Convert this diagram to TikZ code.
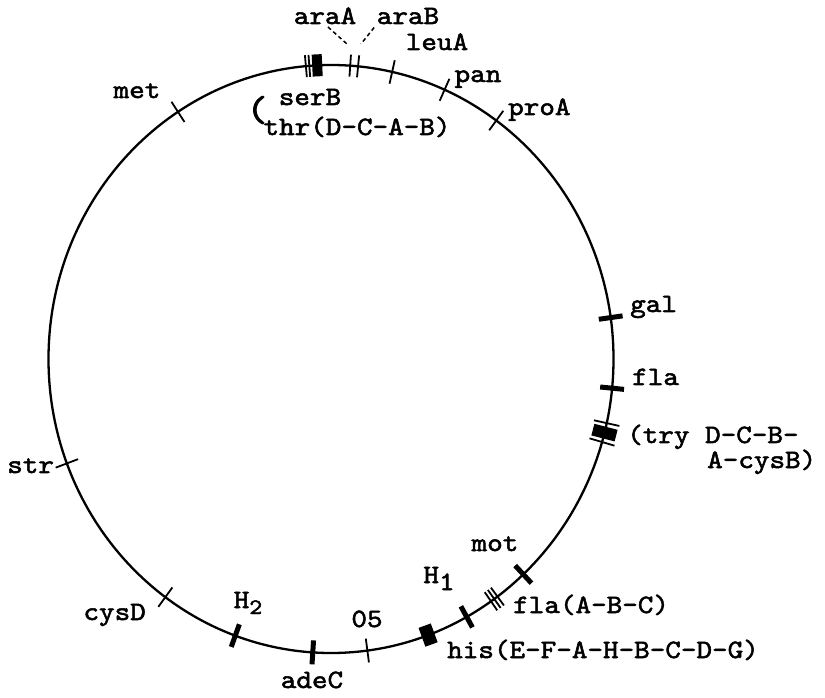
\documentclass[tikz,border=0pt]{standalone}
\usepackage{fontspec}
\newfontfamily\genefont{lmmono10-regular.otf}[FakeStretch=1.12, FakeBold=2]
\usetikzlibrary{positioning}

\begin{document}
\begin{tikzpicture}[
    x=1pt, y=1pt,
    map/.style={line width=2.3pt}, % the chromosome circle
    thin tick/.style={line width=1.8pt}, % single marker
    heavy tick/.style={line width=5pt}, % bold marker
    gene/.style={font=\genefont\fontsize{26.5}{30}\selectfont, inner sep=0pt, anchor=base}
]
    \useasboundingbox (0,0) rectangle (825,697);

    % --- Definitions ---
    \coordinate (centre) at (331,338);
    \def\rx{282.5} % horizontal radius of the map
    \def\ry{294}   % vertical radius of the map

    % --- Drawing ---
    \draw[map] (centre) ellipse ({\rx} and {\ry});

    \begin{scope}[shift={(centre)}]
        % thin markers: met, str, cysD, leuA, pan, proA, 05
        \foreach \t in {122.8, 200.8, 234.1, 77.5, 66.3, 54.2, 277.4}
            \draw[thin tick] ({(\rx-12)*cos(\t)}, {(\ry-12)*sin(\t)}) -- ({(\rx+12)*cos(\t)}, {(\ry+12)*sin(\t)});
        % bold markers: gal, fla, mot, H1, adeC, H2
        \foreach \t in {8.1, -5.7, -47.1, -61.3, -93.7, -109.8}
            \draw[heavy tick] ({(\rx-12)*cos(\t)}, {(\ry-12)*sin(\t)}) -- ({(\rx+12)*cos(\t)}, {(\ry+12)*sin(\t)});
        % araA araB pair, fla(A-B-C) triple
        \foreach \t in {86.1, 84.5, -53.9, -54.7, -55.5}
            \draw[thin tick] ({(\rx-11)*cos(\t)}, {(\ry-11)*sin(\t)}) -- ({(\rx+11)*cos(\t)}, {(\ry+11)*sin(\t)});
        % serB thr cluster
        \foreach \t in {95.1, 94.4}
            \draw[thin tick] ({(\rx-11)*cos(\t)}, {(\ry-11)*sin(\t)}) -- ({(\rx+11)*cos(\t)}, {(\ry+11)*sin(\t)});
        \draw[line width=10pt] ({(\rx-11)*cos(92.8)}, {(\ry-11)*sin(92.8)}) -- ({(\rx+11)*cos(92.8)}, {(\ry+11)*sin(92.8)});
        % try cluster
        \foreach \t in {-12.6, -16.4}
            \draw[thin tick] ({(\rx-13)*cos(\t)}, {(\ry-13)*sin(\t)}) -- ({(\rx+13)*cos(\t)}, {(\ry+13)*sin(\t)});
        \draw[line width=12pt] ({(\rx-12)*cos(-14.5)}, {(\ry-12)*sin(-14.5)}) -- ({(\rx+12)*cos(-14.5)}, {(\ry+12)*sin(-14.5)});
        % his block
        \draw[line width=13pt] ({(\rx-10)*cos(-69.9)}, {(\ry-10)*sin(-69.9)}) -- ({(\rx+10)*cos(-69.9)}, {(\ry+10)*sin(-69.9)});
    \end{scope}

    % --- Labels ---
    \node[gene] (araA) at (325,673) {araA};
    \node[gene] (araB) at (408,673) {araB};
    \node[gene] (leuA) at (437,647) {leuA};
    \node[gene] (pan) at (478,615) {pan};
    \node[gene, anchor=base west] (proA) at (508,582) {proA};
    \node[gene] (serB) at (310,592) {serB};
    \node[gene] (thr) at (357,562) {thr(D-C-A-B)};
    \node[gene, font=\genefont\fontsize{36}{36}\selectfont, anchor=center] (brace) at (257,587) {(};
    \node[gene] (met) at (137,599) {met};
    \node[gene, anchor=base west] (str) at (7,224) {str};
    \node[gene, anchor=base east] (cysD) at (146,77) {cysD};
    \node[gene] (H2) at (248,89) {H\raisebox{-6pt}{\fontsize{22}{22}\selectfont 2}};
    \node[gene] (adeC) at (312,9) {adeC};
    \node[gene] (O5) at (367,70) {05};
    \node[gene, anchor=base west] (his) at (447,39) {his(E-F-A-H-B-C-D-G)};
    \node[gene] (H1) at (439,114) {H\raisebox{-7pt}{1}};
    \node[gene, anchor=base west] (flaABC) at (513,84) {fla(A-B-C)};
    \node[gene] (mot) at (495,146) {mot};
    \node[gene, anchor=base west] (try) at (627,254) {(try D-C-B-};
    \node[gene, anchor=base west] (cysB) at (707,229) {A-cysB)};
    \node[gene, anchor=base west] (fla) at (632,312) {fla};
    \node[gene, anchor=base west] (gal) at (630,385) {gal};

    % dashed pointers to the ara pair
    \coordinate (araAend) at (347,653);
    \coordinate (araBend) at (361,653);
    \draw[line width=1.5pt, dash pattern=on 4pt off 3pt, shorten <=4pt] (araA.south) -- (araAend);
    \draw[line width=1.5pt, dash pattern=on 4pt off 3pt, shorten <=4pt] (araB.south west) -- (araBend);

\end{tikzpicture}
\end{document}
